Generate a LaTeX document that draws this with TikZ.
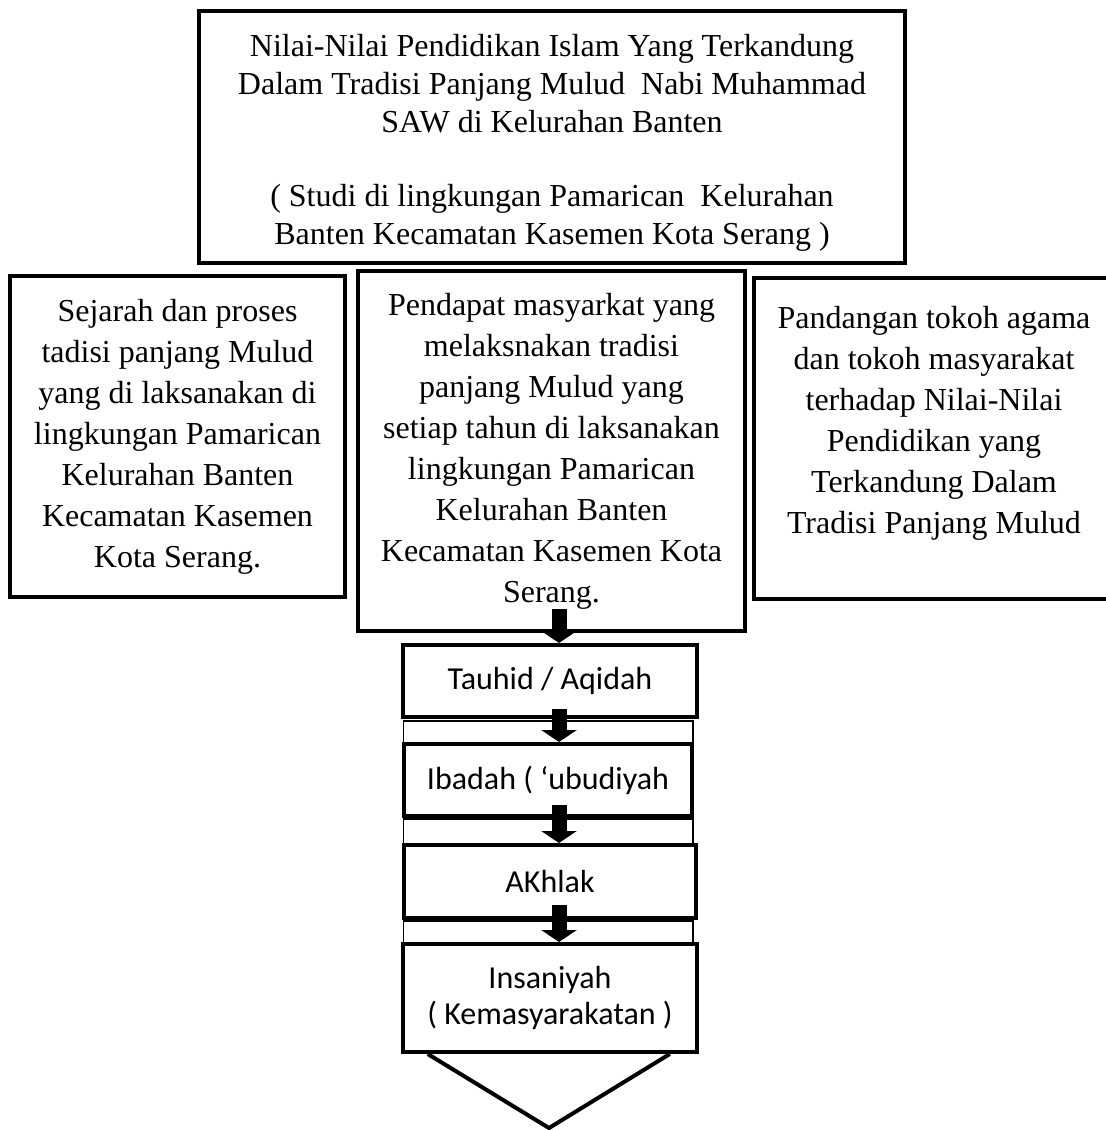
\documentclass[tikz,border=0pt]{standalone}
\usepackage{fontspec}
\setmainfont{Liberation Serif}
\newfontfamily\kalibri{Carlito}
\usetikzlibrary{arrows.meta,calc}

\begin{document}
\begin{tikzpicture}[x=0.5pt,y=-0.5pt,
  kotak/.style={rectangle, draw, line width=2pt, fill=white, align=center, inner sep=0pt, font=\fontsize{16pt}{20.5pt}\selectfont},
  tulisan/.style={align=center, inner sep=0pt, font=\fontsize{16pt}{20.5pt}\selectfont},
  nilai/.style={kotak, font=\kalibri\fontsize{16pt}{18pt}\selectfont},
  latar/.style={draw, line width=0.75pt},
  panah/.style={-{Triangle[width=17.5pt,length=6pt]}, line width=7.5pt}]
\useasboundingbox (0,0) rectangle (1106,1130);
\clip (0,0) rectangle (1106,1130);
\node [kotak, minimum width=353pt, minimum height=126pt] (z) at (552,137) {};
\node [tulisan, font=\fontsize{16pt}{19pt}\selectfont] (z1) at (552,143)
  {Nilai-Nilai Pendidikan Islam Yang Terkandung\\ Dalam Tradisi Panjang Mulud~ Nabi Muhammad\\ SAW di Kelurahan Banten\\[18pt]
   ( Studi di lingkungan Pamarican~ Kelurahan\\ Banten Kecamatan Kasemen Kota Serang )};
\node [kotak, minimum width=167.5pt, minimum height=160.5pt] (a) at (177.5,436.5)
  {Sejarah dan proses\\ tadisi panjang Mulud\\ yang di laksanakan di\\ lingkungan Pamarican\\ Kelurahan Banten\\ Kecamatan Kasemen\\ Kota Serang.};
\node [kotak, minimum width=193.5pt, minimum height=180pt] (b) at (551.5,451)
  {Pendapat masyarkat yang\\ melaksnakan tradisi\\ panjang Mulud yang\\ setiap tahun di laksanakan\\ lingkungan Pamarican\\ Kelurahan Banten\\ Kecamatan Kasemen Kota\\ Serang.};
\node [kotak, minimum width=180pt, minimum height=160.5pt] (c) at (934,438.5) {};
\node [tulisan] (c1) at (934,423.5)
  {Pandangan tokoh agama\\ dan tokoh masyarakat\\ terhadap Nilai-Nilai\\ Pendidikan yang\\ Terkandung Dalam\\ Tradisi Panjang Mulud};
\draw [latar] (403.5,721) rectangle (693,744);
\draw [latar] (403.5,819) rectangle (693,845);
\draw [latar] (403.5,921) rectangle (693,944);
\node [nilai, minimum width=146.75pt, minimum height=36pt] (d) at (550,681) {Tauhid / Aqidah};
\node [nilai, minimum width=144.25pt, minimum height=36pt] (e) at (548,780) {Ibadah ( ‘ubudiyah};
\node [nilai, minimum width=146.25pt, minimum height=36.5pt] (f) at (550,881.5) {AKhlak};
\node [nilai, minimum width=146.75pt, minimum height=54pt] (g) at (550,998) {Insaniyah\\( Kemasyarakatan )};
\coordinate (h) at (549,1128);
\draw [line width=2pt] ($(g.south west)+(26.5,0)$) -- (h) -- ($(g.south east)+(-29,0)$);
\coordinate (s) at (559,0);
\draw [panah] ($(s |- b.south)+(0,-24)$) -- (s |- d.north);
\draw [panah] ($(s |- d.south)+(0,-10)$) -- (s |- e.north);
\draw [panah] ($(s |- e.south)+(0,-13)$) -- (s |- f.north);
\draw [panah] ($(s |- f.south)+(0,-15)$) -- (s |- g.north);
\end{tikzpicture}
\end{document}
